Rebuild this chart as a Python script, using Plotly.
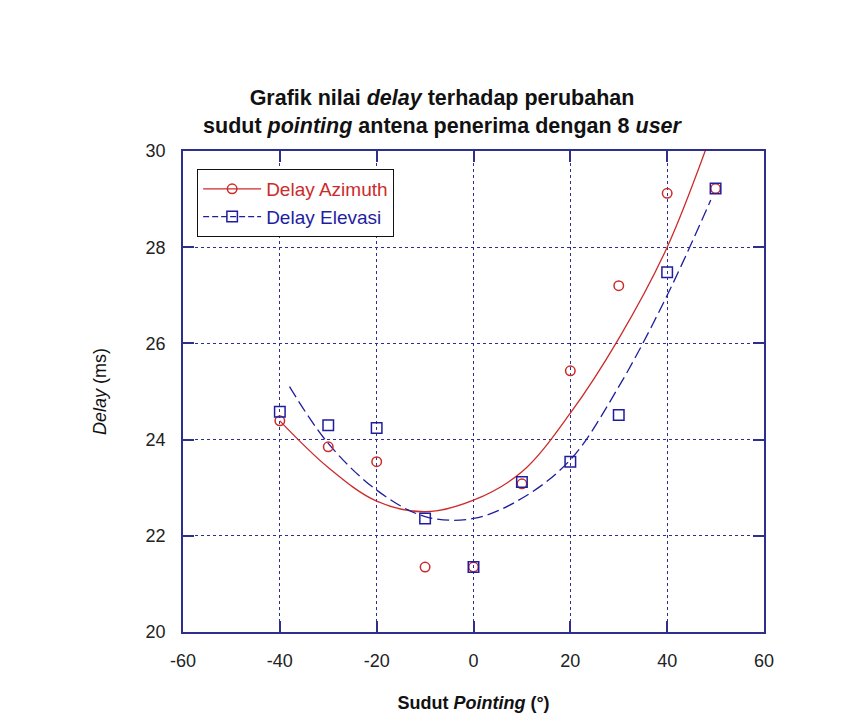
import plotly.graph_objects as go

# Measured delay per pointing angle (8 users)
angles = [-40, -30, -20, -10, 0, 10, 20, 30, 40, 50]
delay_azimuth = [24.39, 23.85, 23.54, 21.35, 21.35, 23.08, 25.43, 27.20, 29.12, 29.22]
delay_elevasi = [24.58, 24.30, 24.24, 22.36, 21.35, 23.12, 23.54, 24.51, 27.48, 29.22]

# Trend curves through each series
azimuth_trend_x = [-40, -30, -20, -10, 0, 10, 20, 30, 40, 50]
azimuth_trend_y = [24.39, 23.42, 22.72, 22.50, 22.74, 23.33, 24.55, 26.10, 28.00, 30.60]
elevasi_trend_x = [-38, -30, -20, -10, 0, 10, 20, 30, 40, 49]
elevasi_trend_y = [25.10, 23.92, 22.95, 22.40, 22.36, 22.78, 23.58, 25.10, 27.00, 28.98]

x_ticks = [-60, -40, -20, 0, 20, 40, 60]
y_ticks = [20, 22, 24, 26, 28, 30]

RED = "#cc2b2b"
BLUE = "#1e1e9e"
FRAME = "#2e2e8c"
FONT = "Liberation Sans, Arial, sans-serif"
NB = "\u00a0"

fig = go.Figure()

fig.add_trace(go.Scatter(
    x=azimuth_trend_x, y=azimuth_trend_y, mode="lines",
    line=dict(color=RED, width=1.3, shape="spline", smoothing=1),
    showlegend=False, hoverinfo="skip"))
fig.add_trace(go.Scatter(
    x=elevasi_trend_x, y=elevasi_trend_y, mode="lines",
    line=dict(color=BLUE, width=1.3, dash="12px,5px", shape="spline", smoothing=1),
    showlegend=False, hoverinfo="skip"))

fig.add_trace(go.Scatter(
    x=angles, y=delay_azimuth, mode="markers",
    marker=dict(symbol="circle-open", size=9.5, color=RED, line=dict(width=1.5)),
    showlegend=False, cliponaxis=False))
fig.add_trace(go.Scatter(
    x=angles, y=delay_elevasi, mode="markers",
    marker=dict(symbol="square-open", size=10.5, color=BLUE, line=dict(width=1.5)),
    showlegend=False, cliponaxis=False))

# Legend entries (line + marker samples), labels coloured like their series
fig.add_trace(go.Scatter(
    x=[None], y=[None], mode="lines+markers",
    name=f"<span style='color:{RED}'>Delay Azimuth</span>",
    line=dict(color=RED, width=1.3),
    marker=dict(symbol="circle-open", size=9.5, color=RED, line=dict(width=1.5))))
fig.add_trace(go.Scatter(
    x=[None], y=[None], mode="lines+markers",
    name=f"<span style='color:{BLUE}'>Delay Elevasi</span>",
    line=dict(color=BLUE, width=1.3, dash="6px,3px"),
    marker=dict(symbol="square-open", size=10.5, color=BLUE, line=dict(width=1.5))))

axis_common = dict(
    showline=True, linecolor=FRAME, linewidth=1.5, mirror="ticks",
    ticks="inside", ticklen=11, tickcolor=FRAME, tickwidth=1.5,
    showgrid=True, gridcolor=FRAME, griddash="dot", gridwidth=1,
    zeroline=False, tickfont=dict(family=FONT, size=18, color="#222222"),
)

fig.update_xaxes(
    range=[-60, 60], tickvals=x_ticks, ticktext=[str(v) for v in x_ticks],
    ticklabelstandoff=12,
    title=dict(text="<b>Sudut <i>Pointing</i> (°)</b>", standoff=26,
               font=dict(family=FONT, size=18, color="#111111")),
    **axis_common)
fig.update_yaxes(
    range=[20, 30], tickvals=y_ticks, ticktext=[str(v) for v in y_ticks],
    ticklabelstandoff=12,
    title=dict(text="<i>Delay</i> (ms)", standoff=34,
               font=dict(family=FONT, size=18, color="#111111")),
    **axis_common)

fig.update_layout(
    width=864, height=722,
    margin=dict(l=183, r=100, t=151, b=90, autoexpand=False),
    paper_bgcolor="white", plot_bgcolor="white",
    title=dict(
        text="<b>Grafik nilai <i>delay</i> terhadap perubahan<br>"
             "sudut <i>pointing</i> antena penerima dengan 8 <i>user</i></b>",
        x=442 / 864, xanchor="center", xref="container",
        y=1 - 105 / 722, yanchor="middle", yref="container",
        font=dict(family=FONT, size=21.5, color="#111111")),
    legend=dict(
        x=0.024, y=0.963, xanchor="left", yanchor="top",
        bordercolor="#111111", borderwidth=1.2, bgcolor="white",
        font=dict(family=FONT, size=19),
        itemwidth=58, tracegroupgap=0),
    showlegend=True,
)

fig.write_html("out.html")
